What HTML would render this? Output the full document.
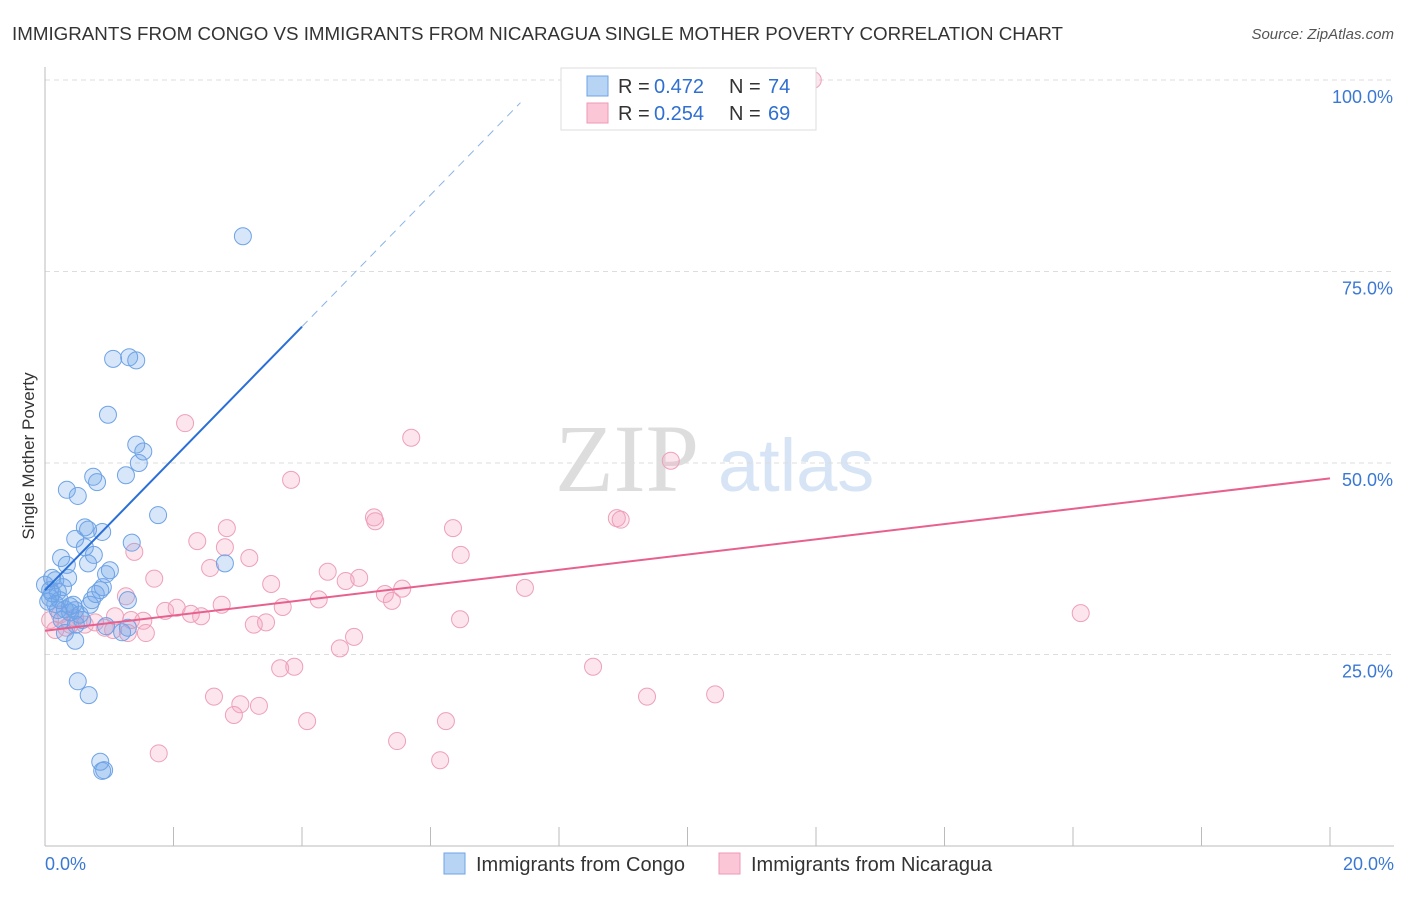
<!DOCTYPE html>
<html><head><meta charset="utf-8"><style>
body{margin:0;background:#fff;font-family:"Liberation Sans",sans-serif;}
svg text{font-family:"Liberation Sans",sans-serif;}
</style></head><body>
<svg id="c" width="1406" height="892" xmlns="http://www.w3.org/2000/svg">
<text x="12" y="40" font-size="18" fill="#333" textLength="1051" lengthAdjust="spacingAndGlyphs">IMMIGRANTS FROM CONGO VS IMMIGRANTS FROM NICARAGUA SINGLE MOTHER POVERTY CORRELATION CHART</text>
<text x="1394" y="39" font-size="15" fill="#555" text-anchor="end" font-style="italic">Source: ZipAtlas.com</text>
<text x="34" y="456" font-size="17" fill="#333" text-anchor="middle" transform="rotate(-90 34 456)">Single Mother Poverty</text>
<text x="555" y="491" font-size="96" fill="#ddd" font-family="Liberation Serif" style="font-family:'Liberation Serif',serif">ZIP</text>
<text x="718" y="491" font-size="74" fill="#d6e4f5">atlas</text>
<g id="grid"></g><g id="pts"></g><g id="lines"></g>
<g>
<rect x="561" y="68" width="255" height="62" fill="#fff" stroke="#ddd"/>
<rect x="587" y="76" width="21" height="20" fill="#b8d4f5" stroke="#6ea3e6"/>
<rect x="587" y="103" width="21" height="20" fill="#fbc7d6" stroke="#ee9ab5"/>
<text x="618" y="93" font-size="20" fill="#333">R =</text>
<text x="654" y="93" font-size="20" fill="#2f6fd0">0.472</text>
<text x="729" y="93" font-size="20" fill="#333">N =</text>
<text x="768" y="93" font-size="20" fill="#2f6fd0">74</text>
<text x="618" y="120" font-size="20" fill="#333">R =</text>
<text x="654" y="120" font-size="20" fill="#2f6fd0">0.254</text>
<text x="729" y="120" font-size="20" fill="#333">N =</text>
<text x="768" y="120" font-size="20" fill="#2f6fd0">69</text>
</g>
<g>
<rect x="444" y="853" width="21" height="21" fill="#b8d4f5" stroke="#6ea3e6"/>
<text x="476" y="871" font-size="20" fill="#333">Immigrants from Congo</text>
<rect x="719" y="853" width="21" height="21" fill="#fbc7d6" stroke="#ee9ab5"/>
<text x="751" y="871" font-size="20" fill="#333">Immigrants from Nicaragua</text>
</g>
</svg>
<script>
const congoX=[3.08,1.06,1.31,1.42,0.98,1.42,1.53,1.46,1.26,0.75,0.81,0.34,0.51,1.76,0.62,0.67,0.47,0.89,0.62,0.76,0.25,0.67,0.34,1.35,2.80,1.01,0.95,0.11,0.16,0.36,0.90,0.86,0.28,0.20,0.08,0.79,0.73,0.05,0.16,0.23,0.39,0.31,0.47,0.39,1.29,0.58,0.48,0.95,1.29,1.20,0.31,0.47,0.51,0.68,0.86,0.92,0.89,0.08,0.11,0.0,0.44,0.54,0.20,0.26,0.70];
const congoY=[79.6,63.6,63.8,63.4,56.3,52.4,51.5,50.0,48.4,48.2,47.5,46.5,45.7,43.2,41.6,41.3,40.1,41.0,39.0,38.0,37.6,36.9,36.7,39.6,36.9,36.0,35.5,35.0,34.7,35.0,33.8,33.4,33.8,33.2,32.4,32.9,32.1,31.9,31.6,32.1,31.3,30.9,30.8,30.5,32.1,29.5,28.9,28.7,28.5,27.9,27.8,26.8,21.5,19.7,11.0,9.9,9.8,33.4,33.0,34.1,31.5,30.2,30.8,29.5,31.5];
const nicX=[11.95,2.18,5.70,9.74,3.83,5.12,5.14,8.90,8.96,6.35,2.83,2.37,1.39,6.47,3.18,2.80,2.57,4.40,1.70,3.52,4.68,4.89,5.56,5.29,5.40,7.47,4.26,1.26,2.75,3.70,1.87,2.05,2.27,2.43,16.12,6.46,1.53,1.09,1.34,3.25,3.44,1.06,1.57,1.29,4.81,4.59,8.53,3.66,3.88,2.63,3.04,3.33,2.94,9.37,10.43,4.08,6.24,5.48,6.15,1.77,0.08,0.23,0.39,0.62,0.78,0.16,0.47,0.93,0.33];
const nicY=[100,55.2,53.3,50.3,47.8,42.9,42.4,42.8,42.6,41.5,41.5,39.8,38.4,38.0,37.6,39.0,36.3,35.8,34.9,34.2,34.6,35.0,33.6,32.9,32.0,33.7,32.2,32.6,31.5,31.2,30.7,31.1,30.3,30.0,30.4,29.6,29.4,30.0,29.5,28.9,29.2,28.2,27.8,27.8,27.3,25.8,23.4,23.2,23.4,19.5,18.5,18.3,17.1,19.5,19.8,16.3,16.3,13.7,11.2,12.1,29.5,30.2,28.9,28.9,29.2,28.2,29.8,28.5,28.5];
const yTicks=[25,50,75,100];
const yTickLabels=["25.0%","50.0%","75.0%","100.0%"];
const congoTrend=[33.4,8.6];
const nicTrend=[28.1,0.995];
const NS="http://www.w3.org/2000/svg";
const X0=45,X1=1330,Y0=846,PX_PER_PCT_Y=191.5/25;
function sx(v){return X0+(X1-X0)*v/20;}
function sy(v){return Y0-v*PX_PER_PCT_Y;}
function mk(tag,attrs,parent){const e=document.createElementNS(NS,tag);for(const k in attrs)e.setAttribute(k,attrs[k]);parent.appendChild(e);return e;}
const grid=document.getElementById('grid');
yTicks.forEach((t,i)=>{
  const l=mk('line',{x1:X0,x2:1394,y1:sy(t),y2:sy(t),stroke:'#ddd','stroke-dasharray':'5,4'},grid);
  
  
  const tx=mk('text',{x:1393,y:sy(t)+23,'font-size':18,fill:'#3a78d4','text-anchor':'end'},grid);
  tx.textContent=yTickLabels[i];
  
  
});
const ax=mk('line',{x1:X0,x2:X0,y1:67,y2:846,stroke:'#bbb'},grid);


const bx=mk('line',{x1:X0,x2:1394,y1:846,y2:846,stroke:'#bbb'},grid);


for(let i=1;i<=10;i++){
  const t=mk('line',{x1:sx(i*2),x2:sx(i*2),y1:827,y2:846,stroke:'#bbb'},grid);
  
  
}
const xl0=mk('text',{x:45,y:870,'font-size':18,fill:'#3a78d4'},grid);xl0.textContent='0.0%';


const xl1=mk('text',{x:1394,y:870,'font-size':18,fill:'#3a78d4','text-anchor':'end'},grid);xl1.textContent='20.0%';


const pts=document.getElementById('pts');
nicX.forEach((x,i)=>{
  const c=mk('circle',{cx:sx(x),cy:sy(nicY[i]),r:8.5,fill:'rgba(245,160,190,0.28)',stroke:'#eea0b8','stroke-width':1},pts);
  
  
});
congoX.forEach((x,i)=>{
  const c=mk('circle',{cx:sx(x),cy:sy(congoY[i]),r:8.5,fill:'rgba(110,165,235,0.28)',stroke:'#6ea3e6','stroke-width':1},pts);
  
  
});
const lines=document.getElementById('lines');
const f=(t,x)=>t[0]+t[1]*x;
const b1=mk('line',{x1:sx(0),y1:sy(f(congoTrend,0)),x2:sx(4),y2:sy(f(congoTrend,4)),stroke:'#2a6fd6','stroke-width':2},lines);


const b2=mk('line',{x1:sx(4),y1:sy(f(congoTrend,4)),x2:sx(7.4),y2:sy(f(congoTrend,7.4)),stroke:'#8ab3e8','stroke-width':1,'stroke-dasharray':'8,6'},lines);


const p1=mk('line',{x1:sx(0),y1:sy(f(nicTrend,0)),x2:sx(20),y2:sy(f(nicTrend,20)),stroke:'#e8608e','stroke-width':2},lines);


</script>
</body></html>
